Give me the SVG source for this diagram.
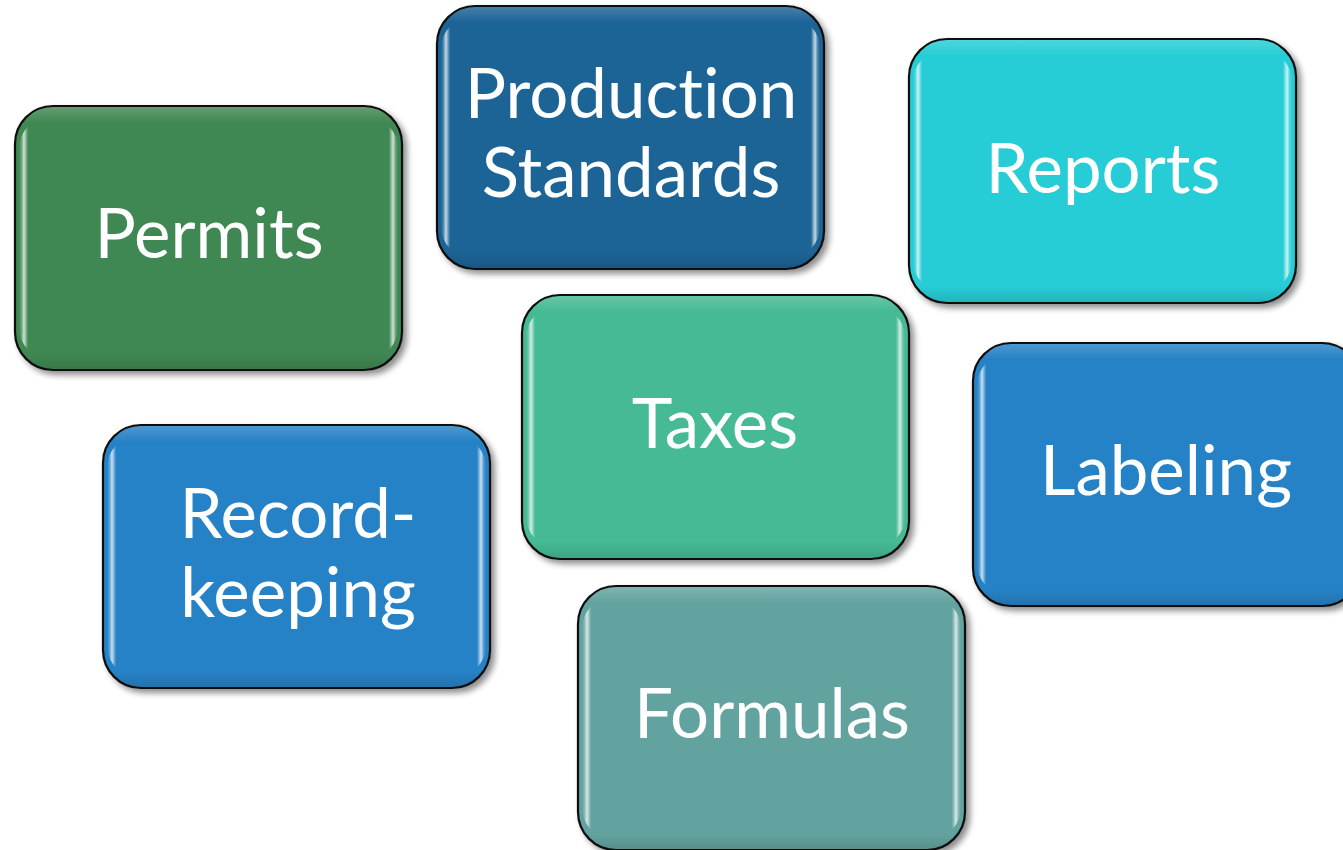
<svg xmlns="http://www.w3.org/2000/svg" width="1343" height="850" viewBox="0 0 1343 850">
<defs>
<linearGradient id="gloss" x1="0" y1="0" x2="1" y2="0">
<stop offset="0" stop-color="#fff" stop-opacity="0"/>
<stop offset="0.006" stop-color="#fff" stop-opacity="0.2"/>
<stop offset="0.013" stop-color="#fff" stop-opacity="0.75"/>
<stop offset="0.024" stop-color="#fff" stop-opacity="0"/>
<stop offset="0.976" stop-color="#fff" stop-opacity="0"/>
<stop offset="0.987" stop-color="#fff" stop-opacity="0.75"/>
<stop offset="0.994" stop-color="#fff" stop-opacity="0.2"/>
<stop offset="1" stop-color="#fff" stop-opacity="0"/>
</linearGradient>
<linearGradient id="topsheen" x1="0" y1="0" x2="0" y2="1">
<stop offset="0" stop-color="#fff" stop-opacity="0.18"/>
<stop offset="0.06" stop-color="#fff" stop-opacity="0"/>
<stop offset="0.94" stop-color="#000" stop-opacity="0"/>
<stop offset="1" stop-color="#000" stop-opacity="0.12"/>
</linearGradient>
<filter id="shadow" x="-10%" y="-10%" width="125%" height="125%">
<feGaussianBlur in="SourceAlpha" stdDeviation="3"/>
<feOffset dx="4" dy="4" result="b"/>
<feComponentTransfer><feFuncA type="linear" slope="0.45"/></feComponentTransfer>
<feMerge><feMergeNode/><feMergeNode in="SourceGraphic"/></feMerge>
</filter>
</defs>
<style>
.box{stroke:#111;stroke-width:2.2;filter:url(#shadow)}
.gl{fill:url(#gloss)}
.sh{fill:url(#topsheen)}
.lbl{font-family:Lato,"Liberation Sans",sans-serif;font-size:69px;fill:#fff;text-anchor:middle;font-variant-ligatures:none;font-feature-settings:"liga" 0}
</style>
<rect width="1343" height="850" fill="#fff"/>
<g id="connectors"/>
<g id="node-permits">
<rect class="box" x="15" y="106" width="387" height="264" rx="38" fill="#3F8852"/>
<rect class="sh" x="16" y="107" width="385" height="262" rx="37"/>
<rect class="gl" x="19" y="118" width="379" height="240" rx="30"/>
<text class="lbl" x="209" y="258">Permits</text>
</g>
<g id="node-production-standards">
<rect class="box" x="437" y="6" width="387" height="263" rx="38" fill="#1F6496"/>
<rect class="sh" x="438" y="7" width="385" height="261" rx="37"/>
<rect class="gl" x="441" y="18" width="379" height="239" rx="30"/>
<text class="lbl" x="631" y="118">Production</text>
<text class="lbl" x="631" y="197">Standards</text>
</g>
<g id="node-reports">
<rect class="box" x="909" y="39" width="387" height="264" rx="38" fill="#28CDD6"/>
<rect class="sh" x="910" y="40" width="385" height="262" rx="37"/>
<rect class="gl" x="913" y="51" width="379" height="240" rx="30"/>
<text class="lbl" x="1103" y="193">Reports</text>
</g>
<g id="node-taxes">
<rect class="box" x="522" y="295" width="387" height="264" rx="38" fill="#44BA95"/>
<rect class="sh" x="523" y="296" width="385" height="262" rx="37"/>
<rect class="gl" x="526" y="307" width="379" height="240" rx="30"/>
<text class="lbl" x="715" y="448">Taxes</text>
</g>
<g id="node-labeling">
<rect class="box" x="973" y="343" width="387" height="263" rx="38" fill="#2882C6"/>
<rect class="sh" x="974" y="344" width="385" height="261" rx="37"/>
<rect class="gl" x="977" y="355" width="379" height="239" rx="30"/>
<text class="lbl" x="1166" y="495">Labeling</text>
</g>
<g id="node-record-keeping">
<rect class="box" x="103" y="425" width="387" height="263" rx="38" fill="#2882C6"/>
<rect class="sh" x="104" y="426" width="385" height="261" rx="37"/>
<rect class="gl" x="107" y="437" width="379" height="239" rx="30"/>
<text class="lbl" x="298" y="538">Record-</text>
<text class="lbl" x="298" y="617">keeping</text>
</g>
<g id="node-formulas">
<rect class="box" x="578" y="586" width="387" height="264" rx="38" fill="#63A39F"/>
<rect class="sh" x="579" y="587" width="385" height="262" rx="37"/>
<rect class="gl" x="582" y="598" width="379" height="240" rx="30"/>
<text class="lbl" x="772" y="738">Formulas</text>
</g>
</svg>
